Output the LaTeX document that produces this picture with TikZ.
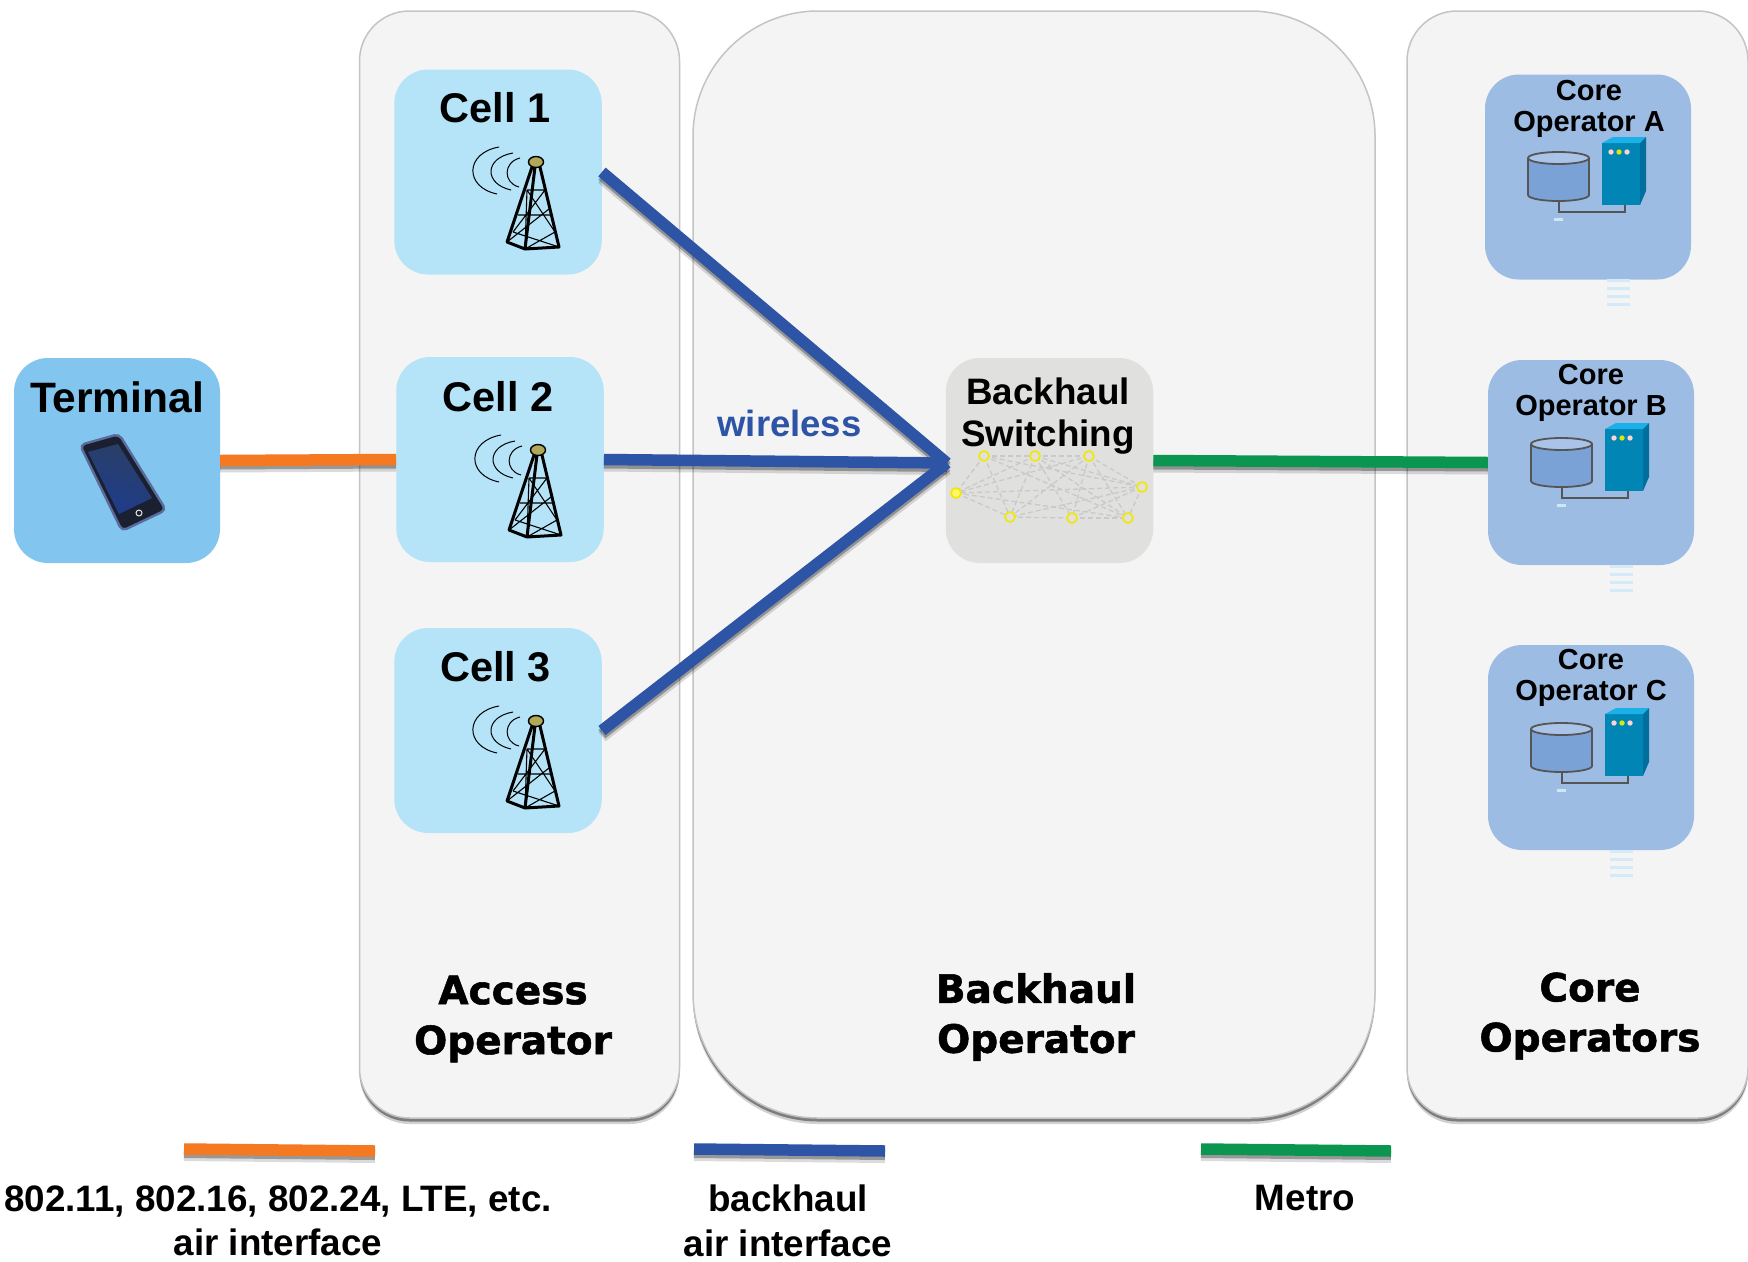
\documentclass[tikz,border=0pt]{standalone}
\usepackage{fontspec}
\setmainfont{Liberation Sans}[BoldFont={Liberation Sans Bold}]
\newfontfamily\blackfont{DejaVu Sans Bold}[FakeBold=1.4]
\usetikzlibrary{shadows,calc}
\definecolor{panelfill}{HTML}{F4F4F4}
\definecolor{panelline}{HTML}{C4C4C4}
\definecolor{cellfill}{HTML}{B5E3F7}
\definecolor{termfill}{HTML}{82C6EF}
\definecolor{switchfill}{HTML}{E0E0DE}
\definecolor{corefill}{HTML}{9DBCE3}
\definecolor{airorange}{HTML}{F47920}
\definecolor{bhblue}{HTML}{2E54A6}
\definecolor{metrogreen}{HTML}{0A9650}
\definecolor{netyellow}{HTML}{F2E70A}
\definecolor{netgray}{HTML}{C9C9C9}
\definecolor{cylgray}{HTML}{555555}
\definecolor{cylfill}{HTML}{7BA2D6}
\definecolor{cyltop}{HTML}{A9C4E8}
\definecolor{srvfront}{HTML}{0085B5}
\definecolor{srvtop}{HTML}{1AB0E8}
\definecolor{srvside}{HTML}{006F9E}
\definecolor{stripe}{HTML}{D3EBF8}
\definecolor{fleck}{HTML}{CFE6F5}
\definecolor{knob}{HTML}{B0A858}
\definecolor{phonedark}{HTML}{1A2030}
\definecolor{phoneedge}{HTML}{5A6C9C}
\definecolor{screentop}{HTML}{2A3F66}
\definecolor{screenlow}{HTML}{1E3C8C}
\tikzset{
  panel/.style={draw=panelline,line width=1.5pt,fill=panelfill,inner sep=0pt,
    drop shadow={shadow xshift=0pt,shadow yshift=-6pt,opacity=.18,fill=black},
    drop shadow={shadow xshift=0pt,shadow yshift=-3.5pt,opacity=.4,fill=black}},
  tile/.style={inner sep=0pt,minimum width=207.5pt,minimum height=205pt,rounded corners=34pt},
  celltile/.style={tile,fill=cellfill},
  termtile/.style={tile,fill=termfill,minimum width=206pt},
  switchtile/.style={tile,fill=switchfill},
  coretile/.style={tile,fill=corefill,minimum width=206pt},
  wire/.style={line width=11.5pt,
    preaction={draw=black,opacity=.14,line width=12pt,transform canvas={yshift=-6pt}},
    preaction={draw=black,opacity=.3,line width=11pt,transform canvas={yshift=-3.5pt}}},
  celltext/.style={font=\bfseries\fontsize{41.5}{46}\selectfont,inner sep=0pt},
  coretext/.style={font=\bfseries\fontsize{29}{31.5}\selectfont,align=center,inner sep=0pt},
  bigtext/.style={font=\bfseries\fontsize{36.8}{44.6}\selectfont,align=center,inner sep=0pt},
  oplabel/.style={font=\blackfont\fontsize{39}{50}\selectfont,align=center,inner sep=0pt},
  netnode/.style={circle,draw=netyellow,line width=1.7pt,minimum size=10pt,inner sep=0pt},
  netedge/.style={draw=netgray,line width=1.3pt,dash pattern=on 5pt off 3pt},
  towerarc/.pic={
    \draw[line width=1pt] (105,78) .. controls (71,84) and (70,118) .. (103,125);
    \draw[line width=1pt] (119,84) .. controls (90,89) and (90,115) .. (117,121);
    \draw[line width=1pt] (126,89) .. controls (109,93) and (109,114) .. (125,118);
  },
  towerbody/.pic={
    \draw[line width=3pt,line join=round] (138,98)--(113,173)--(131,180)--(141,98) (131,180)--(165,178)--(146,98);
    \draw[line width=1.1pt] (133,121)--(151,121) (133,121)--(161,163) (151,121)--(119,163)
      (124,146)--(156,146) (119,163)--(165,178) (161,163)--(131,180) (113,173)--(155,140) (133,121)--(131,180);
    \draw[line width=1.4pt,fill=knob] (142,93) ellipse[x radius=7.5,y radius=5.5];
  },
  coreicon/.pic={
    \fill[srvfront] (117,69) rectangle (155,131);
    \fill[srvtop] (117,69)--(128,63)--(161,63)--(155,69)--cycle;
    \fill[srvside] (155,69)--(161,63)--(161,117)--(155,131)--cycle;
    \fill[pink!70!white] (126,78) circle[radius=2.7];
    \fill[yellow!85!green] (134,78) circle[radius=2.7];
    \fill[pink!70!white] (142,78) circle[radius=2.7];
    \draw[cylgray,line width=1.8pt] (74,126)--(74,138)--(140,138)--(140,131);
    \draw[cylgray,line width=1.8pt,fill=cylfill] (43,84)--(43,121) arc[start angle=180,end angle=360,x radius=30.5,y radius=-6]--(104,84);
    \draw[cylgray,line width=1.8pt,fill=cyltop] (73.5,84) ellipse[x radius=30.5,y radius=6];
    \fill[fleck] (69,144) rectangle (78,146.5);
    \foreach \yy in {205,213,221,229} \fill[stripe] (122,\yy) rectangle (145,\yy+2.6);
  },
  phone/.pic={
    \fill[phonedark,rounded corners=5pt] (80,445)--(119,434)--(166,510)--(122,531)--cycle;
    \draw[phoneedge,line width=2.4pt,rounded corners=5pt] (80,445)--(119,434)--(166,510)--(122,531)--cycle;
    \shade[top color=screentop,bottom color=screenlow,shading angle=-20] (88,452)--(118,444)--(152,498)--(119,514)--cycle;
    \draw[white!80!gray,line width=1pt] (139,513) circle[radius=3];
  }
}
\begin{document}
\begin{tikzpicture}[x=1pt,y=-1pt]
\useasboundingbox (0,0) rectangle (1748,1261);
\fill[white] (0,0) rectangle (1748,1261);
% operator panels
\node[panel,rounded corners=50pt,minimum width=320pt,minimum height=1107pt] (accesspanel) at (519.5,564.5) {};
\node[panel,rounded corners=125pt,minimum width=682pt,minimum height=1107pt] (backhaulpanel) at (1034,564.5) {};
\node[panel,rounded corners=50pt,minimum width=341pt,minimum height=1107pt] (corepanel) at (1577.5,564.5) {};
\node[oplabel] (accesslabel) at (513,1019) {Access\\Operator};
\node[oplabel] (backhaullabel) at (1036,1017) {Backhaul\\Operator};
\node[oplabel] (corelabel) at (1590,1016) {Core\\Operators};
% tiles
\node[termtile] (terminal) at (117,460.5) {};
\node[celltile] (cell1) at (498,172) {};
\node[celltile] (cell2) at (500,459.5) {};
\node[celltile] (cell3) at (498,730.5) {};
\node[switchtile] (switch) at (1049.5,460.5) {};
\node[coretile] (corea) at (1588,177) {};
\node[coretile] (coreb) at (1591,462.5) {};
\node[coretile] (corec) at (1591,747.5) {};
% tile texts
\node[celltext,font=\bfseries\fontsize{42.5}{46}\selectfont] (termtext) at (117,397) {Terminal};
\node[celltext] (c1text) at (495,108) {Cell 1};
\node[celltext] (c2text) at (498,397) {Cell 2};
\node[celltext] (c3text) at (495.5,667) {Cell 3};
\node[bigtext,font=\bfseries\fontsize{36.8}{41.5}\selectfont] (swtext) at (1048,416) {Backhaul\\Switching};
\node[coretext] (catext) at (1589,109) {Core\\Operator A};
\node[coretext] (cbtext) at (1591,393) {Core\\Operator B};
\node[coretext] (cctext) at (1591,678) {Core\\Operator C};
% icons
\pic at (0,0) {phone};
\foreach \tx/\ty in {394/69,396/357,394/628}{
  \pic at (\tx,\ty) {towerarc};
  \pic at (\tx,\ty) {towerbody};
}
\foreach \cx/\cy in {1485/74,1488/360,1488/645}{ \pic at (\cx,\cy) {coreicon}; }
% switching network
\foreach \n/\px/\py in {n1/984/456,n2/1035/456,n3/1089/456,n4/1142/487,n5/1128/518,n6/1072/518,n7/1010/517,n8/956/493}{
  \coordinate (\n) at (\px,\py);
}
\foreach \a/\b in {n1/n2,n2/n3,n1/n8,n1/n7,n1/n5,n1/n4,n2/n8,n2/n7,n2/n6,n2/n5,n3/n7,n3/n6,n3/n5,n3/n4,n3/n8,n4/n5,n4/n6,n4/n7,n4/n8,n8/n5,n8/n7,n7/n6,n6/n5,n2/n4}{
  \draw[netedge] (\a)--(\b);
}
\foreach \n in {n1,n2,n3,n4,n5,n6,n7}{ \node[netnode,fill=switchfill] (m\n) at (\n) {}; }
\node[netnode,fill=yellow!60!white] (mn8) at (n8) {};
% connectors
\draw[wire,airorange] (terminal.east)--(cell2.west);
\coordinate (hub) at (947,463);
\draw[wire,bhblue] (cell1.east)--(hub);
\draw[wire,bhblue] (cell2.east)--(hub);
\draw[wire,bhblue] (cell3.east)--(hub);
\draw[wire,metrogreen] (switch.east)--(coreb.west);
\node[font=\bfseries\fontsize{36.5}{44}\selectfont,text=bhblue,inner sep=0pt] (wirelesstext) at (789.5,423) {wireless};
% legend
\coordinate (la) at (184,1149); \coordinate (lb) at (375,1151);
\coordinate (lc) at (694,1149); \coordinate (ld) at (885,1151);
\coordinate (le) at (1201,1149); \coordinate (lf) at (1391,1151);
\draw[wire,airorange] (la)--(lb);
\draw[wire,bhblue] (lc)--(ld);
\draw[wire,metrogreen] (le)--(lf);
\node[bigtext] (legendair) at (278,1221) {802.11, 802.16, 802.24, LTE, etc.\\air interface};
\node[bigtext] (legendbh) at (788,1221) {backhaul\\air interface};
\node[bigtext,anchor=center] (legendmetro) at (1305,1198) {Metro};
\end{tikzpicture}
\end{document}
